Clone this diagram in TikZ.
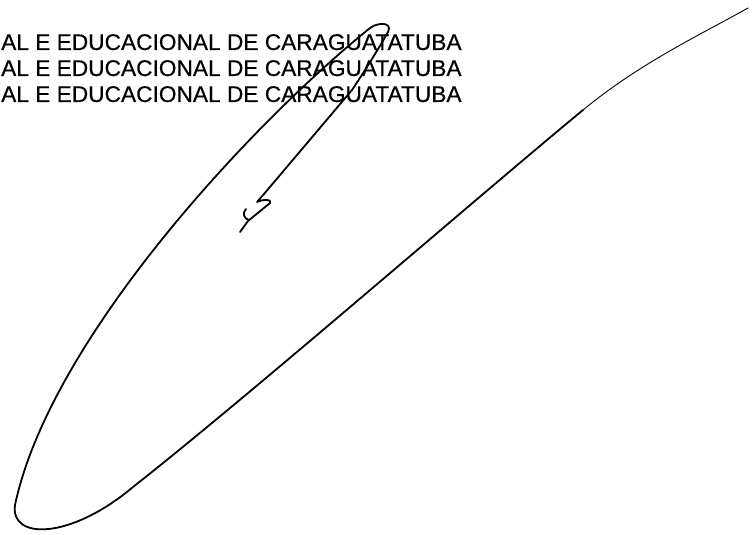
\documentclass[tikz,border=0pt]{standalone}
\usepackage{fontspec}
\setmainfont{Liberation Sans}[FakeBold=0.5]
\begin{document}
\begin{tikzpicture}[x=1pt,y=-1pt,
  hdr/.style={anchor=base west,inner sep=0pt,font=\fontsize{22.7pt}{26pt}\selectfont},
  ink/.style={line width=1.8pt,line cap=round,line join=round},
  thin/.style={line width=0.9pt,line cap=round}]
\useasboundingbox (0,0) rectangle (755,535);
\node[hdr] (t1) at (1,50) {AL E EDUCACIONAL DE CARAGUATATUBA};
\node[hdr] (t2) at (1,76) {AL E EDUCACIONAL DE CARAGUATATUBA};
\node[hdr] (t3) at (1,102) {AL E EDUCACIONAL DE CARAGUATATUBA};
% signature stroke
\draw[thin] (748,8) .. controls (700,35) and (640,63) .. (583,110);
\draw[ink] (583,110) .. controls (480,195) and (250,395) .. (133,487)
  .. controls (70,540) and (10,540) .. (15,505)
  .. controls (50,340) and (250,125) .. (370,28)
  .. controls (378,22) and (393,22) .. (388,32)
  .. controls (375,55) and (360,78) .. (352,90) -- (264,194)
  -- (257,202) .. controls (264,199) and (272,199) .. (270,203) -- (248,221) -- (240,232);
\draw[ink] (246,209) .. controls (242,213) and (244,219) .. (249,220);
\end{tikzpicture}
\end{document}
